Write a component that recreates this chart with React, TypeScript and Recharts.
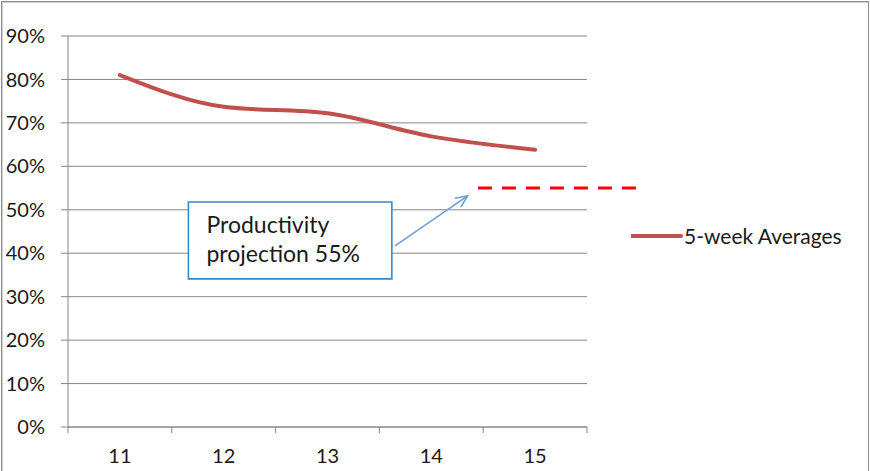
import React from 'react';
import {
  LineChart,
  Line,
  XAxis,
  YAxis,
  CartesianGrid,
  Legend,
  ReferenceLine,
  ReferenceArea,
} from 'recharts';

const weeks = [11, 12, 13, 14, 15];
const averages = [81, 73.7, 72.2, 66.9, 63.8];
const yTicks = [0, 10, 20, 30, 40, 50, 60, 70, 80, 90];
const boundaryTicks = [10.5, 11.5, 12.5, 13.5, 14.5, 15.5];
const seriesName = '5-week Averages';
const projectionValue = 55;
const projectionStart = 14.45;
const projectionEnd = 16.0;
const noteLines = ['Productivity', 'projection 55%'];
const noteX = [11.66, 13.62];
const noteY = [34.1, 51.8];
const arrowFrom = { x: 13.65, y: 41.7 };
const arrowTo = { x: 14.35, y: 53.2 };

const data = weeks.map((w, i) => ({ week: w, avg: averages[i] }));
const xTicks = [...boundaryTicks, ...weeks].sort((a, b) => a - b);

const FONT = "Lato, 'Open Sans', sans-serif";
const TEXT = '#1a1a1a';
const GRID = '#868686';

const XTick = (props: any) => {
  const { x, y, payload } = props;
  const v = payload.value;
  if (Number.isInteger(v)) {
    return (
      <text x={x} y={y} dy={22} textAnchor="middle" fill={TEXT} fontSize={20} fontFamily={FONT}>
        {v}
      </text>
    );
  }
  return <line x1={x} x2={x} y1={y - 14} y2={y - 8} stroke={GRID} strokeWidth={1} />;
};

const ArrowShape = (p: any) => {
  const { x1, y1, x2, y2 } = p;
  const ang = Math.atan2(y2 - y1, x2 - x1);
  const len = 13;
  const spread = 0.42;
  const ax = x2 - len * Math.cos(ang - spread);
  const ay = y2 - len * Math.sin(ang - spread);
  const bx = x2 - len * Math.cos(ang + spread);
  const by = y2 - len * Math.sin(ang + spread);
  return (
    <g>
      <line x1={x1} y1={y1} x2={x2} y2={y2} stroke="#6f9fd4" strokeWidth={1.6} />
      <polyline
        points={`${ax},${ay} ${x2},${y2} ${bx},${by}`}
        fill="none"
        stroke="#6f9fd4"
        strokeWidth={1.6}
      />
    </g>
  );
};

const NoteLabel = (props: any) => {
  const vb = props.viewBox || {};
  const { x, y } = vb;
  return (
    <g>
      {noteLines.map((t, i) => (
        <text key={i} x={x + 18} y={y + 31 + i * 29} fill={TEXT} fontSize={23} fontFamily={FONT}>
          {t}
        </text>
      ))}
    </g>
  );
};

const LegendContent = () => (
  <div style={{ display: 'flex', alignItems: 'center', fontFamily: FONT, fontSize: 21, color: TEXT, whiteSpace: 'nowrap' }}>
    <svg width={52} height={10} style={{ display: 'block' }}>
      <line x1={1} y1={5} x2={50} y2={5} stroke="#c0504d" strokeWidth={4} strokeLinecap="round" />
    </svg>
    <span style={{ marginLeft: 1, lineHeight: '24px' }}>{seriesName}</span>
  </div>
);

export default function App() {
  return (
    <div style={{ position: 'absolute', left: 0, top: 0, width: 870, height: 471, background: '#fff', overflow: 'hidden' }}>
      <div
        style={{
          position: 'absolute',
          left: 1,
          top: 1,
          width: 866,
          height: 490,
          border: '1px solid #8f8f8f',
          boxShadow: 'inset 1px 1px 0 #d0d0d0',
        }}
      />
      <div style={{ position: 'absolute', left: 0, top: 0 }}>
        <LineChart width={870} height={471} data={data} margin={{ top: 36, right: 283, left: 0, bottom: 0 }}>
          <CartesianGrid vertical={false} stroke={GRID} strokeWidth={1} />
          <XAxis
            dataKey="week"
            type="number"
            domain={[10.5, 15.5]}
            ticks={xTicks}
            interval={0}
            height={44}
            axisLine={{ stroke: GRID }}
            tickLine={{ stroke: 'transparent' }}
            tickSize={6}
            tickMargin={8}
            tick={<XTick />}
          />
          <YAxis
            width={68}
            domain={[0, 90]}
            ticks={yTicks}
            interval={0}
            tickFormatter={(v: number) => `${v}%`}
            axisLine={{ stroke: GRID }}
            tickLine={{ stroke: GRID }}
            tickSize={7}
            tickMargin={16}
            tick={{ fill: TEXT, fontSize: 20, fontFamily: FONT }}
          />
          <ReferenceArea
            x1={noteX[0]}
            x2={noteX[1]}
            y1={noteY[0]}
            y2={noteY[1]}
            fill="#ffffff"
            fillOpacity={1}
            stroke="#3a87c8"
            strokeWidth={1.6}
            label={<NoteLabel />}
          />
          <ReferenceLine
            segment={[arrowFrom, arrowTo]}
            ifOverflow="visible"
            shape={<ArrowShape />}
          />
          <ReferenceLine
            segment={[
              { x: projectionStart, y: projectionValue },
              { x: projectionEnd, y: projectionValue },
            ]}
            ifOverflow="visible"
            stroke="#ff0000"
            strokeWidth={3}
            strokeDasharray="14 10"
          />
          <Line
            type="monotone"
            dataKey="avg"
            name={seriesName}
            stroke="#c0504d"
            strokeWidth={4}
            strokeLinecap="round"
            dot={false}
            activeDot={false}
            isAnimationActive={false}
          />
          <Legend
            layout="horizontal"
            verticalAlign="middle"
            align="center"
            wrapperStyle={{ left: 631, top: 224, width: 'auto' }}
            content={<LegendContent />}
          />
        </LineChart>
      </div>
    </div>
  );
}
